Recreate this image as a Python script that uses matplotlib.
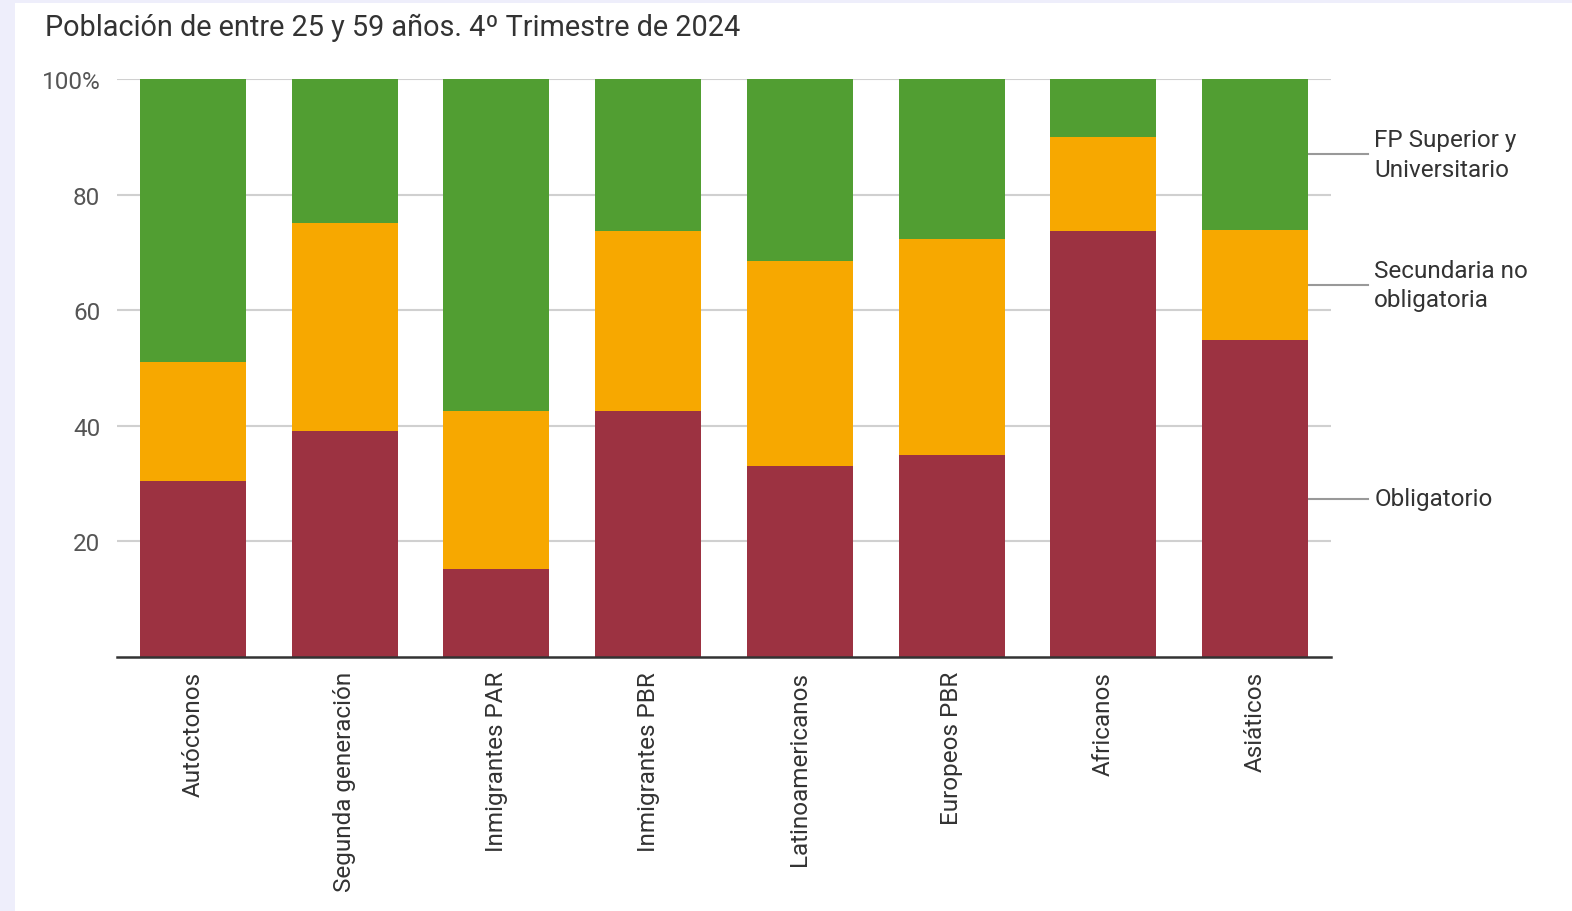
import matplotlib
matplotlib.use("Agg")
from matplotlib import pyplot as plt
from matplotlib.patches import Rectangle
import numpy as np

plt.rcParams['font.family'] = ['Roboto', 'DejaVu Sans']

# Datos: porcentaje por nivel educativo
grupos = ["Autóctonos", "Segunda generación", "Inmigrantes PAR", "Inmigrantes PBR",
          "Latinoamericanos", "Europeos PBR", "Africanos", "Asiáticos"]
obligatorio = [30.4, 39.1, 15.2, 42.6, 33.0, 34.9, 73.7, 54.8]
secundaria = [20.6, 36.0, 27.4, 31.1, 35.5, 37.4, 16.3, 19.1]
superior = [49.0, 24.9, 57.4, 26.3, 31.5, 27.7, 10.0, 26.1]

series = [
    ("Obligatorio", obligatorio, "#9c3241"),
    ("Secundaria no\nobligatoria", secundaria, "#f7a800"),
    ("FP Superior y\nUniversitario", superior, "#519e32"),
]

W, H = 1572, 912
fig = plt.figure(figsize=(W / 100, H / 100), dpi=100, facecolor="#eeeefb")
# panel blanco
fig.patches.append(Rectangle((15 / W, 0), 1, 1 - 4 / H, transform=fig.transFigure,
                             facecolor="white", edgecolor="none", zorder=-10))

ax = fig.add_axes([117 / W, 1 - 658 / H, (1331 - 117) / W, (658 - 80) / H])
ax.set_facecolor("none")

x = np.arange(len(grupos))
base = np.zeros(len(grupos))
for nombre, vals, color in series:
    ax.bar(x, vals, bottom=base, width=0.7, color=color, zorder=2)
    base = base + np.array(vals)

ax.set_xlim(-0.5, len(grupos) - 0.5)
ax.set_ylim(0, 100)
ax.set_yticks([20, 40, 60, 80, 100])
ax.set_yticklabels(["20", "40", "60", "80", "100%"])
ax.yaxis.grid(True, color="#d0d0d0", lw=1.5, zorder=0)
ax.tick_params(axis="y", length=0, pad=12, labelsize=17.5, labelcolor="#555555")
ax.tick_params(axis="x", length=0, pad=10)
ax.set_xticks(x)
ax.set_xticklabels(grupos, rotation=90, fontsize=17.5, color="#333333", va="top")
for s in ["top", "right", "left"]:
    ax.spines[s].set_visible(False)
ax.spines["bottom"].set_color("#333333")
ax.spines["bottom"].set_linewidth(1.8)
ax.spines["bottom"].set_zorder(3)

# etiquetas a la derecha, unidas al centro de cada tramo de la última barra
last = len(grupos) - 1
acum = 0.0
for nombre, vals, color in series:
    mid = acum + vals[last] / 2
    acum += vals[last]
    ax.plot([last + 0.35, last + 0.745], [mid, mid], color="#999999", lw=1.5,
            clip_on=False, zorder=1)
    ax.text(last + 0.785, mid, nombre, fontsize=17.5, color="#333333",
            va="center", ha="left", linespacing=1.38)

fig.text(45 / W, 1 - 28 / H, "Población de entre 25 y 59 años. 4º Trimestre de 2024",
         fontsize=20.8, color="#333333", va="center", ha="left")

fig.savefig("out.png", dpi=100, facecolor=fig.get_facecolor())
